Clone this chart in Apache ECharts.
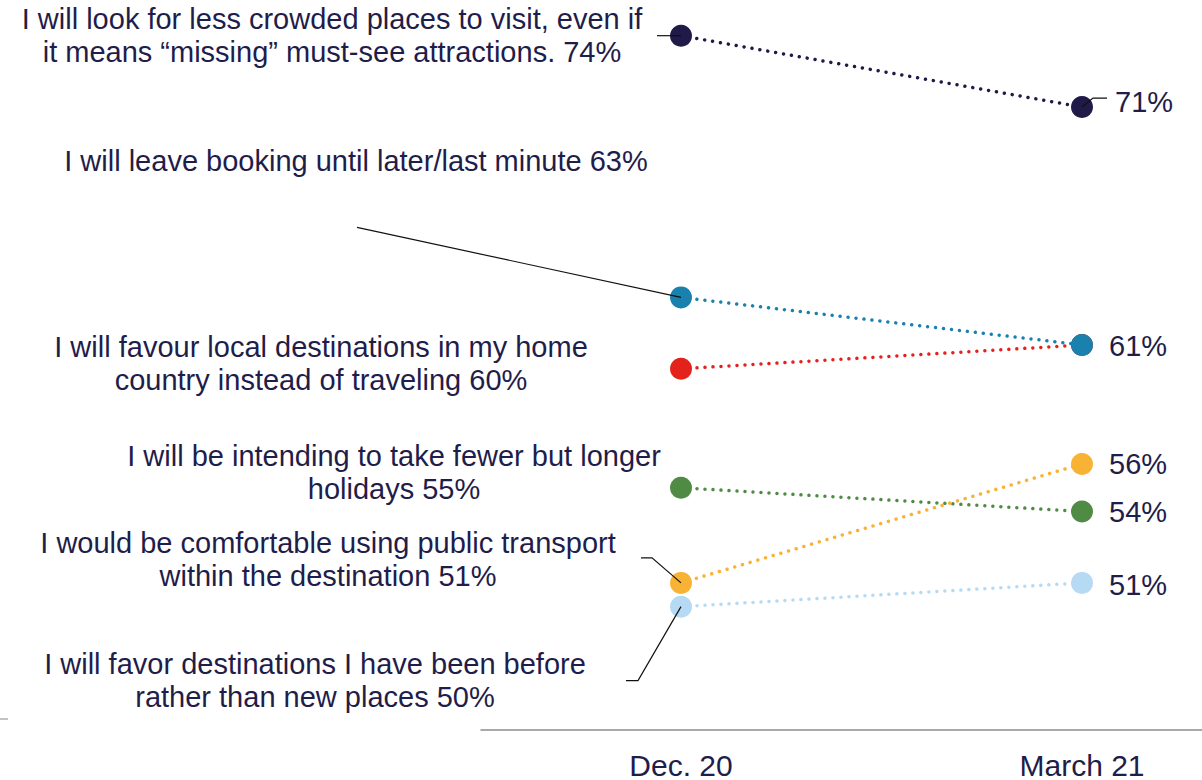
<!DOCTYPE html>
<html>
<head>
<meta charset="utf-8">
<script src="https://cdn.jsdelivr.net/npm/echarts@6/dist/echarts.min.js"></script>
<style>
  html, body { margin: 0; padding: 0; background: #ffffff; }
  #chart { width: 1202px; height: 780px; }
</style>
</head>
<body>
<div id="chart"></div>
<script>
// Survey periods (x categories)
const periods = ['Dec. 20', 'March 21'];

// Statement texts (line breaks as shown beside the first point)
const statements = [
  'I will look for less crowded places to visit, even if\nit means \u201cmissing\u201d must-see attractions.',
  'I will leave booking until later/last minute',
  'I will favour local destinations in my home\ncountry instead of traveling',
  'I will be intending to take fewer but longer\nholidays',
  'I would be comfortable using public transport\nwithin the destination',
  'I will favor destinations I have been before\nrather than new places'
];

// Share of respondents agreeing, in percent
const dec20 = [74, 63, 60, 55, 51, 50];
const mar21 = [71, 61, 61, 54, 56, 51];

// Styling
const seriesColors = ['#1f1a48', '#1a80ae', '#e4221c', '#4f8b45', '#f9b334', '#b6daf4'];
const textColor = '#1f1d4a';
const fontFamily = '"Liberation Sans", Arial, sans-serif';

// Drawing order: the blue line sits above the red one where they meet
const drawOrder = [0, 2, 1, 3, 4, 5];

// Label placement relative to each point, in pixels
const leftLabelOffset = [
  [-349, 0], [-325, -136], [-360, -5], [-287, -15], [-353, -23], [-366, 74]
];
const rightLabelOffset = [[6, -5], [0, 1], [0, 0], [0, 0], [0, 0], [0, 2]];
const rightLabelShown = [true, true, false, true, true, true];

// Leader lines, as point lists relative to a marker centre
const leaders = [
  { s: 0, i: 0, pts: [[-24, 0], [0, 0]] },
  { s: 1, i: 0, pts: [[-324, -70], [0, 0]] },
  { s: 4, i: 0, pts: [[-40, -25], [-29, -25], [0, 0]] },
  { s: 5, i: 0, pts: [[-55, 74], [-43, 74], [0, 0]] },
  { s: 0, i: 1, pts: [[0, 0], [11, -9], [25, -9]] }
];

const chart = echarts.init(document.getElementById('chart'), null, { renderer: 'svg' });

const series = drawOrder.map(function (k) {
  return {
    type: 'line',
    name: statements[k],
    xAxisIndex: 0,
    yAxisIndex: 0,
    symbol: 'circle',
    symbolSize: 22,
    itemStyle: { color: seriesColors[k] },
    lineStyle: { color: seriesColors[k], width: 3.5, type: [0.01, 8], cap: 'round' },
    emphasis: { disabled: true },
    z: 2,
    data: [
      {
        value: dec20[k],
        label: {
          show: true,
          position: 'inside',
          offset: leftLabelOffset[k],
          align: 'center',
          verticalAlign: 'middle',
          fontSize: 29,
          lineHeight: 33,
          fontFamily: fontFamily,
          color: textColor,
          formatter: statements[k] + ' ' + dec20[k] + '%'
        }
      },
      {
        value: mar21[k],
        label: {
          show: rightLabelShown[k],
          position: 'right',
          distance: 16,
          offset: rightLabelOffset[k],
          fontSize: 29,
          fontFamily: fontFamily,
          color: textColor,
          formatter: mar21[k] + '%'
        }
      }
    ]
  };
});

chart.setOption({
  animation: false,
  backgroundColor: '#ffffff',
  grid: [
    // plotting area: the two periods sit at its left and right edges
    { left: 681, right: 120, top: 0, height: 730, containLabel: false },
    // baseline running from the middle of the page to the right edge
    { left: 481, right: 0, top: 0, height: 730, containLabel: false }
  ],
  xAxis: [
    {
      type: 'category',
      gridIndex: 0,
      data: periods,
      boundaryGap: false,
      axisLine: { show: false },
      axisTick: { show: false },
      splitLine: { show: false },
      axisLabel: { fontSize: 30, color: textColor, fontFamily: fontFamily, margin: 22, interval: 0 }
    },
    {
      type: 'value',
      gridIndex: 1,
      min: 0,
      max: 1,
      axisLine: { show: true, lineStyle: { color: '#8d8d8d', width: 1.5 } },
      axisTick: { show: false },
      axisLabel: { show: false },
      splitLine: { show: false }
    }
  ],
  yAxis: [
    { type: 'value', gridIndex: 0, min: 44.9, max: 75.5, show: false, splitLine: { show: false } },
    { type: 'value', gridIndex: 1, min: 0, max: 1, show: false, splitLine: { show: false } }
  ],
  series: series
});

// Leader lines anchored on the rendered markers
const graphics = leaders.map(function (ld) {
  const k = ld.s;
  const val = ld.i === 0 ? dec20[k] : mar21[k];
  const c = chart.convertToPixel({ xAxisIndex: 0, yAxisIndex: 0 }, [ld.i, val]);
  return {
    type: 'polyline',
    z: 100,
    silent: true,
    shape: { points: ld.pts.map(function (p) { return [c[0] + p[0], c[1] + p[1]]; }) },
    style: { stroke: '#111111', lineWidth: 1.2, fill: null }
  };
});
graphics.push({
  type: 'line',
  z: 100,
  silent: true,
  shape: { x1: 0, y1: 719, x2: 8, y2: 719 },
  style: { stroke: '#9a9a9a', lineWidth: 1.2 }
});
chart.setOption({ graphic: graphics });
</script>
</body>
</html>
